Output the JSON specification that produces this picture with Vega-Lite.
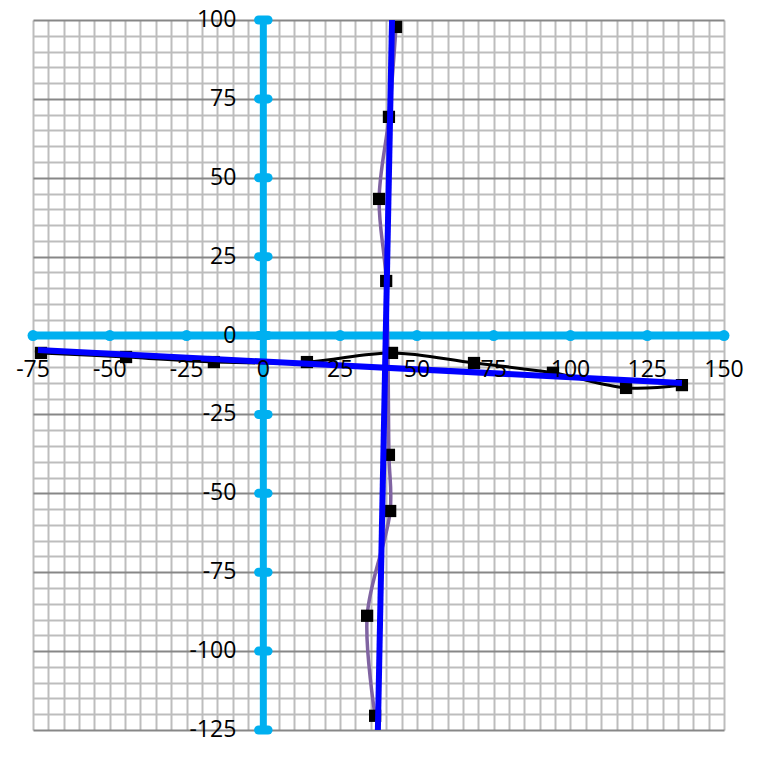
{
  "$schema": "https://vega.github.io/schema/vega-lite/v6.json",
  "width": 691,
  "height": 710,
  "autosize": "none",
  "padding": {"left": 33, "top": 20, "right": 39, "bottom": 30},
  "background": "white",
  "view": {"stroke": null},
  "config": {"text": {"font": "Open Sans", "fontSize": 23, "color": "black"}},
  "datasets": {
    "axisx": [{"x": -75, "y": 0}, {"x": 150, "y": 0}],
    "axisy": [{"x": 0, "y": -125}, {"x": 0, "y": 100}],
    "xticks": [
      {"x": -75, "y": 0, "label": "-75"}, {"x": -50, "y": 0, "label": "-50"}, {"x": -25, "y": 0, "label": "-25"},
      {"x": 0, "y": 0, "label": "0"}, {"x": 25, "y": 0, "label": "25"}, {"x": 50, "y": 0, "label": "50"},
      {"x": 75, "y": 0, "label": "75"}, {"x": 100, "y": 0, "label": "100"}, {"x": 125, "y": 0, "label": "125"},
      {"x": 150, "y": 0, "label": "150"}
    ],
    "yticks": [
      {"x": 0, "y": -125, "label": "-125"}, {"x": 0, "y": -100, "label": "-100"}, {"x": 0, "y": -75, "label": "-75"},
      {"x": 0, "y": -50, "label": "-50"}, {"x": 0, "y": -25, "label": "-25"}, {"x": 0, "y": 0, "label": "0"},
      {"x": 0, "y": 25, "label": "25"}, {"x": 0, "y": 50, "label": "50"}, {"x": 0, "y": 75, "label": "75"},
      {"x": 0, "y": 100, "label": "100"}
    ],
    "s1": [
      {"x": -72.4, "y": -5.5}, {"x": -44.7, "y": -6.8}, {"x": -16.1, "y": -8.4}, {"x": 14.2, "y": -8.4},
      {"x": 41.9, "y": -5.5}, {"x": 68.6, "y": -8.7}, {"x": 94.3, "y": -11.8}, {"x": 118.1, "y": -16.6},
      {"x": 136.3, "y": -15.7}
    ],
    "s2": [
      {"x": 43.2, "y": 97.8}, {"x": 40.9, "y": 69.3}, {"x": 37.7, "y": 43.3}, {"x": 40.0, "y": 17.3},
      {"x": 40.9, "y": -37.8}, {"x": 41.3, "y": -55.6}, {"x": 33.8, "y": -88.8}, {"x": 36.4, "y": -120.5}
    ],
    "trend1": [{"x": -73.4, "y": -4.6}, {"x": 136.3, "y": -15.0}],
    "trend2": [{"x": 41.9, "y": 100}, {"x": 37.3, "y": -125}]
  },
  "encoding": {
    "x": {
      "field": "x", "type": "quantitative",
      "scale": {"domain": [-75, 150], "nice": false, "zero": false},
      "axis": {
        "values": [-75, -70, -65, -60, -55, -50, -45, -40, -35, -30, -25, -20, -15, -10, -5, 0, 5, 10, 15, 20, 25, 30, 35, 40, 45, 50, 55, 60, 65, 70, 75, 80, 85, 90, 95, 100, 105, 110, 115, 120, 125, 130, 135, 140, 145, 150],
        "grid": true, "gridColor": "#BDBDBD", "gridWidth": 2,
        "domain": false, "ticks": false, "labels": false, "title": null
      }
    },
    "y": {
      "field": "y", "type": "quantitative",
      "scale": {"domain": [-125, 100], "nice": false, "zero": false},
      "axis": {
        "values": [-125, -120, -115, -110, -105, -100, -95, -90, -85, -80, -75, -70, -65, -60, -55, -50, -45, -40, -35, -30, -25, -20, -15, -10, -5, 0, 5, 10, 15, 20, 25, 30, 35, 40, 45, 50, 55, 60, 65, 70, 75, 80, 85, 90, 95, 100],
        "grid": true,
        "gridColor": {"condition": {"test": "datum.value % 25 === 0", "value": "#878787"}, "value": "#BDBDBD"},
        "gridWidth": 2,
        "domain": false, "ticks": false, "labels": false, "title": null
      }
    }
  },
  "layer": [
    {"data": {"name": "axisx"}, "mark": {"type": "line", "color": "#00B0F0", "strokeWidth": 8}},
    {"data": {"name": "axisy"}, "mark": {"type": "line", "color": "#00B0F0", "strokeWidth": 7}, "encoding": {"order": {"value": null}}},
    {"data": {"name": "xticks"}, "mark": {"type": "point", "shape": "circle", "filled": true, "color": "#00B0F0", "size": 120, "opacity": 1}},
    {"data": {"name": "yticks"}, "mark": {"type": "point", "shape": "M-1,0L1,0", "filled": false, "stroke": "#00B0F0", "strokeWidth": 9, "strokeCap": "round", "size": 90, "opacity": 1}},
    {"data": {"name": "s1"}, "mark": {"type": "line", "color": "black", "strokeWidth": 3, "interpolate": "catmull-rom"}},
    {"data": {"name": "s2"}, "mark": {"type": "line", "color": "#8064A2", "strokeWidth": 3.5, "interpolate": "catmull-rom"}, "encoding": {"order": {"value": null}}},
    {"data": {"name": "s1"}, "mark": {"type": "point", "shape": "square", "filled": true, "color": "black", "size": 150, "opacity": 1}},
    {"data": {"name": "s2"}, "mark": {"type": "point", "shape": "square", "filled": true, "color": "black", "size": 150, "opacity": 1}},
    {"data": {"name": "trend1"}, "mark": {"type": "line", "color": "#0000FF", "strokeWidth": 6}},
    {"data": {"name": "trend2"}, "mark": {"type": "line", "color": "#0000FF", "strokeWidth": 6}, "encoding": {"order": {"value": null}}},
    {"data": {"name": "xticks"}, "mark": {"type": "text", "align": "center", "baseline": "middle", "dy": 34}, "encoding": {"text": {"field": "label"}}},
    {"data": {"name": "yticks"}, "mark": {"type": "text", "align": "right", "baseline": "middle", "dx": -27}, "encoding": {"text": {"field": "label"}}}
  ]
}
